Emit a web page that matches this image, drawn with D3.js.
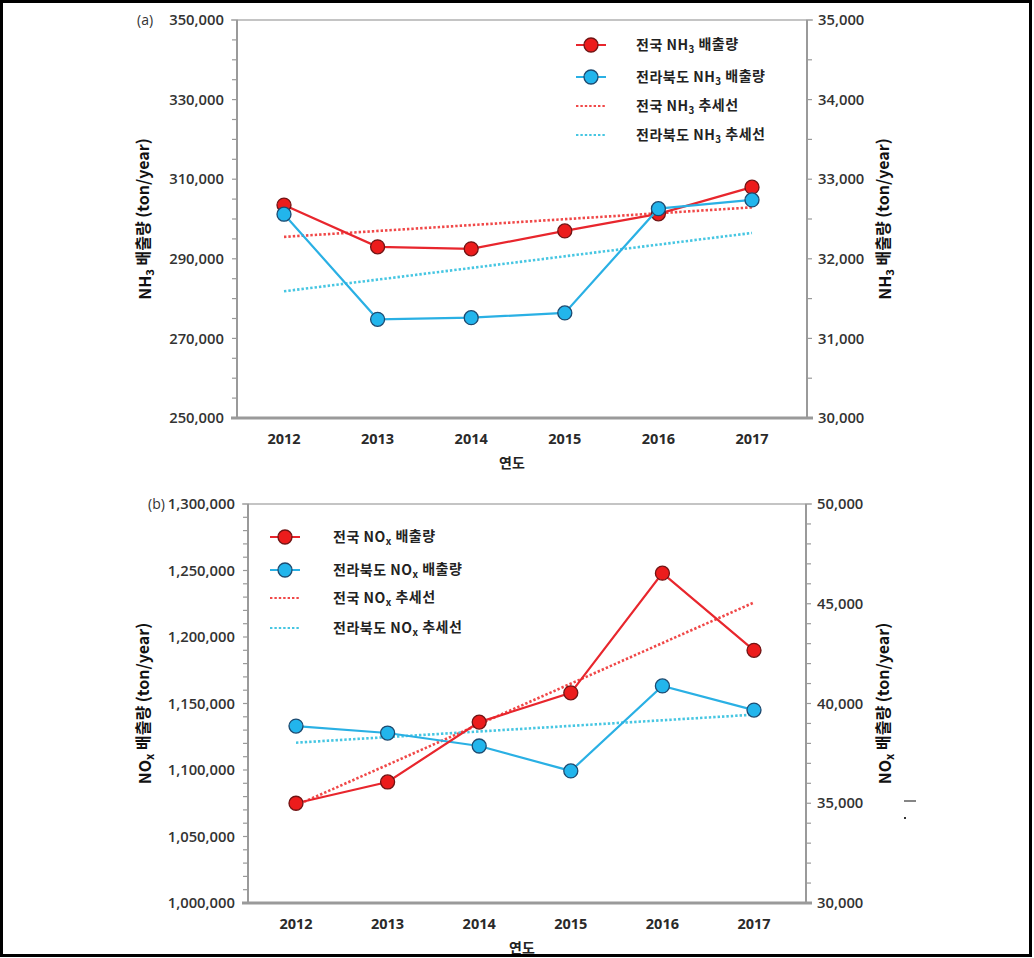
<!DOCTYPE html>
<html><head><meta charset="utf-8">
<script src="https://cdn.jsdelivr.net/npm/d3@7"></script>
<style>body{margin:0;background:#fff}</style>
</head><body><svg id="c" width="1034" height="958"></svg>
<script>
const years = ["2012","2013","2014","2015","2016","2017"];
const nh3National = [303500, 293000, 292500, 297000, 301300, 308000];
const nh3Jeonbuk = [32560, 31240, 31260, 31320, 32630, 32740];
const noxNational = [1075000, 1091000, 1136000, 1158000, 1248000, 1190000];
const noxJeonbuk = [38870, 38520, 37870, 36620, 40880, 39670];
const nh3LeftTicks = [250000, 270000, 290000, 310000, 330000, 350000];
const nh3RightTicks = [30000, 31000, 32000, 33000, 34000, 35000];
const noxLeftTicks = [1000000, 1050000, 1100000, 1150000, 1200000, 1250000, 1300000];
const noxRightTicks = [30000, 35000, 40000, 45000, 50000];

const svg = d3.select("#c");
svg.append("rect").attr("width",1034).attr("height",958).attr("fill","#fff");

const C = {
  redLine:"#e8262d", redFill:"#ec1c1c", redStroke:"#701414",
  blueLine:"#2ab0e4", blueFill:"#22b5ec", blueStroke:"#1d4a70",
  redTrend:"#f04848", blueTrend:"#46c6e2", axis:"#9a9a9a", text:"#2a2a2a"
};
const numFont = "'Open Sans', 'Liberation Sans', sans-serif";
const korFont = "'Noto Sans CJK KR', 'Noto Sans', sans-serif";
const fmt = d3.format(",");

function regression(vals){
  const n = vals.length, xs = vals.map((v,i)=>i);
  const mx = d3.mean(xs), my = d3.mean(vals);
  const sxy = d3.sum(xs.map((x,i)=>(x-mx)*(vals[i]-my)));
  const sxx = d3.sum(xs.map(x=>(x-mx)*(x-mx)));
  const b = sxy/sxx, a = my - b*mx;
  return [a, a + b*(n-1)];
}

function addLabel(sel, pre, sub, post){
  sel.append("tspan").text(pre);
  sel.append("tspan").attr("font-size","0.7em").attr("dy","0.3em").text(sub);
  sel.append("tspan").attr("dy","-0.3em").text(post);
}

function drawPanel(p){
  const g = svg.append("g");
  const x = d3.scalePoint().domain(years).range([p.x0, p.x1]);
  const yL = d3.scaleLinear().domain(p.leftDomain).range([p.bottom, p.top]);
  const yR = d3.scaleLinear().domain(p.rightDomain).range([p.bottom, p.top]);

  const minorL = d3.range(p.leftDomain[0], p.leftDomain[1] + 1, p.leftMinor);
  const minorR = d3.range(p.rightDomain[0], p.rightDomain[1] + 1, p.rightMinor);
  g.append("g").selectAll("line").data(minorL).join("line")
    .attr("x1", p.left-5).attr("x2", p.left+1).attr("y1", d=>yL(d)).attr("y2", d=>yL(d))
    .attr("stroke", C.axis).attr("stroke-width",1.2);
  g.append("g").selectAll("line").data(minorR).join("line")
    .attr("x1", p.right-1).attr("x2", p.right+5).attr("y1", d=>yR(d)).attr("y2", d=>yR(d))
    .attr("stroke", C.axis).attr("stroke-width",1.2);

  g.append("line").attr("x1",p.left-6).attr("x2",p.right+6).attr("y1",p.top).attr("y2",p.top)
    .attr("stroke","#b0b0b0").attr("stroke-width",1.5);
  g.append("line").attr("x1",p.left).attr("x2",p.left).attr("y1",p.top).attr("y2",p.bottom)
    .attr("stroke",C.axis).attr("stroke-width",2);
  g.append("line").attr("x1",p.right).attr("x2",p.right).attr("y1",p.top).attr("y2",p.bottom)
    .attr("stroke",C.axis).attr("stroke-width",2);
  g.append("line").attr("x1",p.left-6).attr("x2",p.right+6).attr("y1",p.bottom).attr("y2",p.bottom)
    .attr("stroke",C.axis).attr("stroke-width",3);

  g.append("g").selectAll("text").data(p.leftTicks).join("text")
    .attr("x", p.left-13).attr("y", d=>yL(d)).attr("dy","0.35em").attr("text-anchor","end")
    .attr("font-family",numFont).attr("font-size",14.8).attr("font-weight",600).attr("fill","#333")
    .text(d=>fmt(d));
  g.append("g").selectAll("text").data(p.rightTicks).join("text")
    .attr("x", p.right+11).attr("y", d=>yR(d)).attr("dy","0.35em").attr("text-anchor","start")
    .attr("font-family",numFont).attr("font-size",14.8).attr("font-weight",600).attr("fill","#333")
    .text(d=>fmt(d));
  g.append("g").selectAll("text").data(years).join("text")
    .attr("x", d=>x(d)).attr("y", p.bottom+21).attr("dy","0.35em").attr("text-anchor","middle")
    .attr("font-family",numFont).attr("font-size",14.5).attr("font-weight",700).attr("fill",C.text)
    .text(d=>d);

  g.append("text").attr("x", p.xTitleX).attr("y", p.xTitleY).attr("text-anchor","middle")
    .attr("font-family",korFont).attr("font-size",14).attr("font-weight",700).attr("fill","#222")
    .text("연도");
  g.append("text").attr("x", p.left-100).attr("y", p.top).attr("dy","0.35em")
    .attr("font-family",numFont).attr("font-size",14).attr("fill","#333").text(p.tag);
  const mid = (p.top + p.bottom)/2;
  [145, 885].forEach(tx=>{
    const t = g.append("text").attr("transform",`translate(${tx},${mid}) rotate(-90)`)
      .attr("text-anchor","middle").attr("dy","0.35em")
      .attr("font-family",korFont).attr("font-size",16).attr("font-weight",700).attr("fill","#111");
    addLabel(t, p.gas[0], p.gas[1], " 배출량 (ton/year)");
  });

  const tN = regression(p.national), tJ = regression(p.jeonbuk);
  g.append("line").attr("x1",x(years[0])).attr("x2",x(years[years.length-1]))
    .attr("y1",yL(tN[0])).attr("y2",yL(tN[1]))
    .attr("stroke",C.redTrend).attr("stroke-width",2.6).attr("stroke-dasharray","2.4,2");
  g.append("line").attr("x1",x(years[0])).attr("x2",x(years[years.length-1]))
    .attr("y1",yR(tJ[0])).attr("y2",yR(tJ[1]))
    .attr("stroke",C.blueTrend).attr("stroke-width",2.6).attr("stroke-dasharray","2.4,2");

  const series = [
    {vals:p.jeonbuk, y:yR, line:C.blueLine, fill:C.blueFill, stroke:C.blueStroke},
    {vals:p.national, y:yL, line:C.redLine, fill:C.redFill, stroke:C.redStroke}
  ];
  const order = p.blueOnTop ? [series[1], series[0]] : series;
  order.forEach(s=>{
    g.append("path").datum(s.vals)
      .attr("d", d3.line().x((d,i)=>x(years[i])).y(d=>s.y(d)))
      .attr("fill","none").attr("stroke",s.line).attr("stroke-width",2.2);
    g.append("g").selectAll("circle").data(s.vals).join("circle")
      .attr("cx",(d,i)=>x(years[i])).attr("cy",d=>s.y(d)).attr("r",7)
      .attr("fill",s.fill).attr("stroke",s.stroke).attr("stroke-width",1.3);
  });

  const L = p.legend;
  const items = [
    {type:"pt", line:C.redLine, fill:C.redFill, stroke:C.redStroke, pre:"전국 ", post:" 배출량"},
    {type:"pt", line:C.blueLine, fill:C.blueFill, stroke:C.blueStroke, pre:"전라북도 ", post:" 배출량"},
    {type:"tr", line:C.redTrend, pre:"전국 ", post:" 추세선"},
    {type:"tr", line:C.blueTrend, pre:"전라북도 ", post:" 추세선"}
  ];
  items.forEach((it,i)=>{
    const ly = L.rows[i];
    if(it.type==="pt"){
      g.append("line").attr("x1",L.x-15).attr("x2",L.x+15).attr("y1",ly).attr("y2",ly)
        .attr("stroke",it.line).attr("stroke-width",2);
      g.append("circle").attr("cx",L.x).attr("cy",ly).attr("r",7)
        .attr("fill",it.fill).attr("stroke",it.stroke).attr("stroke-width",1.3);
    } else {
      g.append("line").attr("x1",L.x-15).attr("x2",L.x+15).attr("y1",ly).attr("y2",ly)
        .attr("stroke",it.line).attr("stroke-width",2).attr("stroke-dasharray","2.4,2");
    }
    const t = g.append("text").attr("x",L.tx).attr("y",ly).attr("dy","0.35em")
      .attr("font-family",korFont).attr("font-size",14).attr("letter-spacing",0.5)
      .attr("font-weight",700).attr("fill","#222");
    addLabel(t, it.pre + p.gas[0], p.gas[1], it.post);
  });
}

drawPanel({
  left:237, right:807, top:20, bottom:418, x0:284, x1:752,
  leftDomain:[250000,350000], rightDomain:[30000,35000], leftMinor:5000, rightMinor:500,
  leftTicks:nh3LeftTicks, rightTicks:nh3RightTicks,
  national:nh3National, jeonbuk:nh3Jeonbuk, gas:["NH","3"], tag:"(a)",
  xTitleX:512, xTitleY:468, blueOnTop:true,
  legend:{x:591, tx:636, rows:[45,77,106,135]}
});
drawPanel({
  left:248, right:806, top:504, bottom:903, x0:296, x1:754,
  leftDomain:[1000000,1300000], rightDomain:[30000,50000], leftMinor:10000, rightMinor:1000,
  leftTicks:noxLeftTicks, rightTicks:noxRightTicks,
  national:noxNational, jeonbuk:noxJeonbuk, gas:["NO","x"], tag:"(b)",
  xTitleX:522, xTitleY:953, blueOnTop:false,
  legend:{x:285, tx:333, rows:[537,570,598,628]}
});

svg.append("line").attr("x1",904).attr("x2",916).attr("y1",801).attr("y2",801).attr("stroke","#333").attr("stroke-width",1.2);
svg.append("rect").attr("x",904).attr("y",817).attr("width",2).attr("height",2).attr("fill","#333");

svg.append("rect").attr("x",1.5).attr("y",1.5).attr("width",1029).attr("height",954)
  .attr("fill","none").attr("stroke","#000").attr("stroke-width",3);
</script></body></html>
